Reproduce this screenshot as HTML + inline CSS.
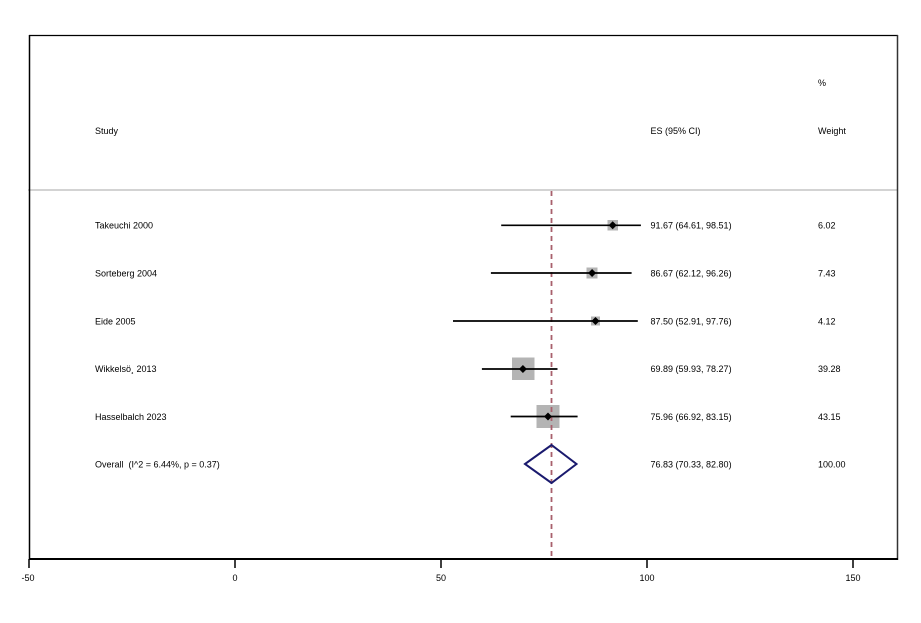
<!DOCTYPE html>
<html><head><meta charset="utf-8"><style>
html,body{margin:0;padding:0;background:#fff;}
svg{display:block;}
text{font-family:"Liberation Sans",Arial,sans-serif;font-size:9px;fill:#000;}
</style></head><body>
<svg width="921" height="623" viewBox="0 0 921 623" xmlns="http://www.w3.org/2000/svg">
<rect x="0" y="0" width="921" height="623" fill="#fff"/>
<!-- separator -->
<line x1="28" y1="190" x2="898" y2="190" stroke="#d3d3d3" stroke-width="2"/>
<!-- frame -->
<line x1="29" y1="35.5" x2="898" y2="35.5" stroke="#000" stroke-width="1.3"/>
<line x1="29.5" y1="35" x2="29.5" y2="560" stroke="#000" stroke-width="1.5"/>
<line x1="897.5" y1="35" x2="897.5" y2="560" stroke="#333" stroke-width="1.5"/>
<!-- squares -->
<g fill="#b4b4b4">
<rect x="607.5" y="220" width="10.5" height="10.5"/>
<rect x="586.5" y="267.5" width="11" height="11"/>
<rect x="591" y="316.5" width="9" height="9"/>
<rect x="512" y="357.5" width="22.5" height="22.5"/>
<rect x="536.5" y="405" width="23" height="23"/>
</g>
<!-- dashed line -->
<line x1="551.5" y1="191" x2="551.5" y2="558" stroke="#a8606c" stroke-width="1.8" stroke-dasharray="5,4"/>
<!-- axis -->
<line x1="29" y1="559" x2="898" y2="559" stroke="#000" stroke-width="2"/>
<g stroke="#000" stroke-width="1.5">
<line x1="29" y1="559" x2="29" y2="568"/>
<line x1="235" y1="559" x2="235" y2="568"/>
<line x1="441" y1="559" x2="441" y2="568"/>
<line x1="647" y1="559" x2="647" y2="568"/>
<line x1="853" y1="559" x2="853" y2="568"/>
</g>
<g text-anchor="middle">
<text x="28" y="581">-50</text>
<text x="235" y="581">0</text>
<text x="441" y="581">50</text>
<text x="647" y="581">100</text>
<text x="853" y="581">150</text>
</g>
<!-- headers -->
<text x="818" y="86">%</text>
<text x="95" y="134">Study</text>
<text x="650.5" y="134">ES (95% CI)</text>
<text x="818" y="134">Weight</text>
<!-- CI lines -->
<g stroke="#000" stroke-width="1.7">
<line x1="501.2" y1="225.3" x2="640.9" y2="225.3"/>
<line x1="490.9" y1="273" x2="631.6" y2="273"/>
<line x1="453" y1="321" x2="637.8" y2="321"/>
<line x1="481.9" y1="369" x2="557.5" y2="369"/>
<line x1="510.7" y1="416.5" x2="577.6" y2="416.5"/>
</g>
<!-- point markers -->
<g fill="#000">
<polygon points="612.7,221.3 616.7,225.3 612.7,229.3 608.7,225.3"/>
<polygon points="592.1,269 596.1,273 592.1,277 588.1,273"/>
<polygon points="595.5,317 599.5,321 595.5,325 591.5,321"/>
<polygon points="522.9,365 526.9,369 522.9,373 518.9,369"/>
<polygon points="548,412.5 552,416.5 548,420.5 544,416.5"/>
</g>
<!-- overall diamond -->
<polygon points="525,464 551.5,445 576.5,464 551.5,483" fill="none" stroke="#1a1a6e" stroke-width="2"/>
<!-- labels -->
<text x="95" y="228.5">Takeuchi 2000</text>
<text x="95" y="276.5">Sorteberg 2004</text>
<text x="95" y="324.5">Eide 2005</text>
<text x="95" y="372">Wikkelsö¸ 2013</text>
<text x="95" y="420">Hasselbalch 2023</text>
<text x="95" y="467.5" xml:space="preserve">Overall  (I^2 = 6.44%, p = 0.37)</text>
<text x="650.5" y="228.5">91.67 (64.61, 98.51)</text>
<text x="650.5" y="276.5">86.67 (62.12, 96.26)</text>
<text x="650.5" y="324.5">87.50 (52.91, 97.76)</text>
<text x="650.5" y="372">69.89 (59.93, 78.27)</text>
<text x="650.5" y="420">75.96 (66.92, 83.15)</text>
<text x="650.5" y="467.5">76.83 (70.33, 82.80)</text>
<text x="818" y="228.5">6.02</text>
<text x="818" y="276.5">7.43</text>
<text x="818" y="324.5">4.12</text>
<text x="818" y="372">39.28</text>
<text x="818" y="420">43.15</text>
<text x="818" y="467.5">100.00</text>
</svg>
</body></html>
